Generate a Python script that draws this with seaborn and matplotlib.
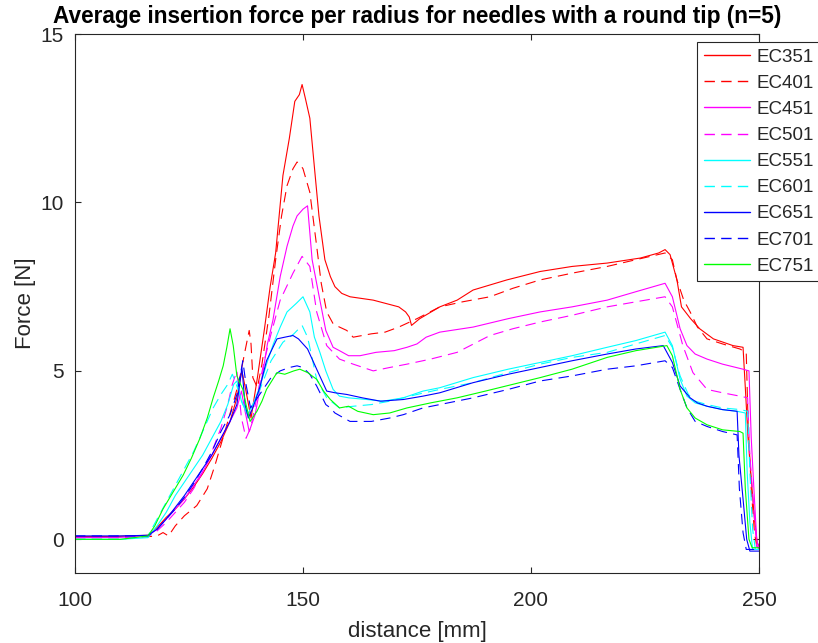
import matplotlib
matplotlib.use("Agg")
import matplotlib.pyplot as plt
import seaborn as sns
import pandas as pd

# ---------------- data ----------------
series_names = ["EC351", "EC401", "EC451", "EC501", "EC551", "EC601", "EC651", "EC701", "EC751"]
series_colors = ["#ff0000", "#ff0000", "#ff00ff", "#ff00ff", "#00ffff", "#00ffff", "#0000ff", "#0000ff", "#00ff00"]
series_dashed = [False, True, False, True, False, True, False, True, False]

x_ec351 = [100, 108, 116, 118, 120, 122, 124, 126, 128, 130, 132, 134, 135.5, 136.6, 137.5, 138.6, 140, 141.5,
           142.8, 144, 145.6, 147, 148.2, 149.2, 149.8, 150.5, 151.5, 152.6, 153.5, 154.8, 156, 157, 158.5, 160.3,
           165.4, 171, 172.5, 173.3, 173.8, 175.6, 180, 183.8, 187.3, 194.7, 202, 209, 216.7, 224, 228, 229.4,
           230.5, 232, 233, 235, 237, 240, 244.3, 246.5, 247, 247.6, 248.3, 249, 249.6, 250]
f_ec351 = [0.08, 0.08, 0.12, 0.35, 0.65, 0.9, 1.2, 1.55, 1.95, 2.4, 2.9, 3.5, 4.2, 5.0, 4.4, 3.6, 4.8, 6.2,
           7.5, 8.5, 10.8, 11.9, 13.0, 13.2, 13.5, 13.1, 12.5, 10.9, 9.6, 8.3, 7.8, 7.5, 7.3, 7.2,
           7.1, 6.9, 6.75, 6.6, 6.35, 6.55, 6.9, 7.1, 7.4, 7.7, 7.95, 8.1, 8.2, 8.35, 8.5, 8.6,
           8.45, 7.7, 6.9, 6.55, 6.25, 5.95, 5.75, 5.7, 4.5, 3.0, 1.8, 0.6, -0.1, -0.2]

x_ec401 = [100, 110, 116, 118, 119.3, 120.5, 122, 124, 126.7, 129, 130.7, 132, 133.3, 135, 136, 137.3, 138.2,
           138.6, 139, 140, 141, 142.5, 144, 145.3, 146.5, 147.8, 148.7, 149.5, 150, 151.5, 153, 154, 155.2,
           156.6, 158, 159.6, 161, 165, 168, 171, 175, 180, 185, 191, 196, 202, 209, 216.7, 223, 229.4, 231,
           232, 233.5, 234.9, 236.5, 238.6, 242, 245.8, 247.2, 247.6, 248.3, 249, 249.5, 250]
f_ec401 = [0.05, 0.05, 0.08, 0.1, 0.2, 0.1, 0.4, 0.7, 1.0, 1.5, 2.2, 2.8, 3.4, 4.2, 4.7, 5.6, 6.2,
           5.8, 4.8, 4.5, 5.2, 6.6, 8.3, 9.6, 10.5, 11.0, 11.2, 11.1, 11.0, 10.3, 8.7, 7.6, 6.75,
           6.4, 6.3, 6.2, 6.0, 6.1, 6.15, 6.3, 6.55, 6.9, 7.05, 7.2, 7.45, 7.7, 7.9, 8.1, 8.3, 8.5, 8.3,
           7.7, 7.1, 6.75, 6.3, 5.95, 5.8, 5.65, 5.55, 3.5, 1.5, 0.2, -0.2, -0.25]

x_ec451 = [100, 110, 116, 118, 120, 122, 124, 126, 128, 130, 132, 134, 135.5, 136.5, 137.3, 138.2, 139.5,
           141, 142.2, 143.4, 145, 146.5, 147.8, 148.7, 150, 151, 152, 153.7, 155, 156.6, 158, 160, 162.5,
           166, 170, 172.8, 175, 177, 180, 187.3, 195, 202, 209, 216.7, 223, 229.4, 231, 232.7, 234.2, 236,
           238.6, 242, 246.5, 247.8, 248.3, 249, 249.5, 250]
f_ec451 = [0.05, 0.06, 0.1, 0.3, 0.6, 0.9, 1.2, 1.6, 2.0, 2.5, 3.0, 3.5, 3.9, 4.4, 3.8, 3.2, 3.7,
           4.8, 5.8, 6.5, 7.8, 8.7, 9.3, 9.6, 9.8, 9.9, 8.3, 7.1, 6.2, 5.7, 5.6, 5.45, 5.45,
           5.55, 5.6, 5.7, 5.8, 6.0, 6.15, 6.3, 6.55, 6.75, 6.9, 7.1, 7.35, 7.6, 7.2, 6.25, 5.75, 5.5,
           5.35, 5.2, 5.05, 5.0, 3.0, 1.2, 0.0, -0.3]

x_ec501 = [100, 110, 116, 118, 120, 122, 124, 126, 128, 130, 132, 133.5, 134.5, 135.5, 136.5, 137.5, 138.5,
           140, 141.5, 143, 145, 147.8, 149.8, 151.5, 153, 155.2, 158, 161, 165.4, 169, 172.8, 178, 183.8,
           191, 196, 202, 209, 216.7, 223, 229.4, 231, 233.3, 235.5, 238.6, 242, 245.8, 247.5, 248, 248.8,
           249.5, 250]
f_ec501 = [0.05, 0.05, 0.08, 0.25, 0.5, 0.8, 1.1, 1.5, 2.0, 2.6, 3.3, 4.0, 4.6, 5.0, 3.6, 3.0, 3.3,
           4.3, 5.3, 6.1, 7.1, 7.9, 8.4, 8.1, 6.75, 5.75, 5.35, 5.2, 5.0, 5.1, 5.2, 5.35, 5.55,
           6.05, 6.25, 6.45, 6.65, 6.9, 7.05, 7.2, 6.9, 5.75, 4.95, 4.45, 4.35, 4.25, 4.2, 2.5, 1.0,
           -0.2, -0.3]

x_ec551 = [100, 110, 116, 118, 120, 122, 124, 126, 128, 130, 132, 133.5, 134.8, 135.5, 136.5, 137.8, 139,
           140.5, 142, 143.5, 145, 146.5, 148.5, 150, 151.5, 152.5, 153.7, 155, 156.6, 158, 160, 164, 167.5,
           172, 176.3, 180, 187.3, 195, 202, 209, 216.7, 223, 229.4, 231, 232.7, 234.2, 236, 238.6, 242,
           245.2, 247, 247.4, 248, 248.6, 250]
f_ec551 = [0.0, 0.0, 0.05, 0.4, 0.8, 1.3, 1.7, 2.1, 2.5, 3.0, 3.5, 4.0, 4.6, 4.7, 4.1, 3.7, 4.0,
           4.5, 5.2, 5.8, 6.3, 6.75, 7.0, 7.2, 6.75, 6.0, 5.55, 5.0, 4.45, 4.25, 4.2, 4.15, 4.1,
           4.2, 4.4, 4.5, 4.8, 5.05, 5.25, 5.45, 5.7, 5.9, 6.15, 5.75, 4.75, 4.25, 4.05, 3.95, 3.85,
           3.8, 3.75, 2.0, 0.5, -0.3, -0.3]

x_ec601 = [100, 110, 116, 118, 120, 122, 124, 126, 128, 130.3, 132, 133.5, 134.5, 135.5, 136.8, 138.2,
           139.5, 141, 143, 145.6, 148, 149.8, 151, 153, 155.2, 158, 161, 165, 169, 175, 180, 187.3, 195,
           202, 209, 216.7, 223, 229.4, 231, 232.7, 234.5, 236, 238.6, 242, 246, 247.5, 248, 248.6, 249.2,
           250]
f_ec601 = [0.0, 0.0, 0.1, 0.6, 1.1, 1.6, 2.1, 2.6, 3.2, 3.9, 4.3, 4.6, 4.9, 4.55, 4.0, 3.8,
           4.1, 4.6, 5.3, 5.85, 6.1, 6.35, 6.0, 4.75, 4.2, 3.9, 3.95, 4.0, 4.1, 4.3, 4.45, 4.65, 4.95,
           5.2, 5.4, 5.55, 5.8, 6.05, 5.7, 4.85, 4.3, 4.1, 4.0, 3.9, 3.85, 3.8, 2.0, 0.3, -0.3,
           -0.3]

x_ec651 = [100, 110, 116, 118, 120, 122, 124, 126, 128, 130, 132, 134, 135.5, 136.6, 137.3, 138, 139,
           140.5, 142, 144.3, 146, 147.8, 149, 151, 153, 155.2, 157, 159.6, 163, 167, 172, 176.3, 180,
           187.3, 195, 202, 209, 216.7, 223, 229, 231, 232.7, 234.9, 236.5, 238.6, 242, 245.2, 245.6,
           246.5, 247.3, 248, 250]
f_ec651 = [0.1, 0.1, 0.12, 0.3, 0.6, 0.95, 1.3, 1.7, 2.1, 2.5, 3.0, 3.5, 4.0, 5.1, 4.0, 3.6, 3.9,
           4.5, 5.3, 5.95, 6.0, 6.05, 5.95, 5.65, 5.05, 4.4, 4.35, 4.3, 4.2, 4.1, 4.15, 4.25, 4.35,
           4.65, 4.9, 5.1, 5.3, 5.5, 5.65, 5.75, 5.25, 4.55, 4.2, 4.05, 3.95, 3.85, 3.8, 2.5,
           1.2, 0.0, -0.35, -0.35]

x_ec701 = [100, 110, 116, 118, 120, 122, 124, 126, 128, 130, 132, 134, 135.5, 136.8, 137.5, 138.5, 140,
           141.5, 143, 145, 147, 148.7, 150, 151.5, 153, 155, 156, 157, 160.3, 165, 169, 172, 176.3, 180,
           187.3, 195, 202, 209, 216.7, 223, 229.4, 231, 232.7, 234.2, 236, 238.6, 242, 245.2, 245.7,
           246.5, 247.2, 250]
f_ec701 = [0.1, 0.1, 0.1, 0.3, 0.6, 0.9, 1.25, 1.65, 2.1, 2.6, 3.2, 3.7, 4.3, 5.3, 4.6, 3.9, 4.2,
           4.5, 4.8, 5.0, 5.1, 5.15, 5.1, 4.9, 4.55, 4.0, 3.9, 3.75, 3.5, 3.5, 3.6, 3.7, 3.9, 4.0,
           4.2, 4.45, 4.7, 4.85, 5.05, 5.15, 5.3, 5.1, 4.45, 3.9, 3.5, 3.35, 3.2, 3.1, 1.5,
           0.2, -0.3, -0.3]

x_ec751 = [100, 110, 116, 117.5, 119.3, 121.5, 123.7, 125.5, 127.4, 129, 130.3, 131.5, 132.5, 133.3, 134,
           134.7, 135.5, 136.8, 137.5, 138.4, 139.9, 141, 142, 144.3, 146, 148, 149.3, 151, 153, 154.5,
           156, 158, 160, 162, 165.4, 169, 172.8, 178, 183.8, 190, 196, 202, 209, 216.7, 223, 229.8, 231,
           232.7, 234.2, 236, 238.6, 242, 245.8, 246.5, 247, 247.8, 248.5, 250]
f_ec751 = [0.0, 0.0, 0.1, 0.4, 0.9, 1.4, 1.9, 2.4, 3.0, 3.6, 4.2, 4.7, 5.15, 5.7, 6.25,
           5.75, 4.85, 4.45, 4.0, 3.5, 3.8, 4.1, 4.45, 4.95, 4.9, 5.0, 5.05, 4.95, 4.75, 4.4,
           4.15, 3.9, 3.95, 3.8, 3.7, 3.75, 3.9, 4.05, 4.2, 4.4, 4.6, 4.8, 5.05, 5.4, 5.6, 5.75, 5.45,
           4.45, 3.9, 3.6, 3.4, 3.25, 3.2, 3.15, 1.5, 0.0, -0.25, -0.25]

x_ticks = [100, 150, 200, 250]
y_ticks = [0, 5, 10, 15]
title_text = "Average insertion force per radius for needles with a round tip (n=5)"
x_label = "distance [mm]"
y_label = "Force [N]"

all_x = [x_ec351, x_ec401, x_ec451, x_ec501, x_ec551, x_ec601, x_ec651, x_ec701, x_ec751]
all_f = [f_ec351, f_ec401, f_ec451, f_ec501, f_ec551, f_ec601, f_ec651, f_ec701, f_ec751]

# ---------------- styling ----------------
sns.set_theme(style="white")
plt.rcParams["font.family"] = ["Liberation Sans", "DejaVu Sans"]
plt.rcParams["lines.scale_dashes"] = False
ink = "#262626"

fig = plt.figure(figsize=(8.18, 6.43), dpi=100)
ax = fig.add_axes([75 / 818, 1 - 573 / 643, (759 - 75) / 818, (573 - 34) / 643])

for name, col, dashed, xs, fs in zip(series_names, series_colors, series_dashed, all_x, all_f):
    df = pd.DataFrame({"x": xs, "f": fs})
    sns.lineplot(data=df, x="x", y="f", ax=ax, color=col, linewidth=0.8,
                 linestyle=(0, (7.5, 4.5)) if dashed else "-",
                 estimator=None, sort=False, label=name)

ax.set_xlim(100, 250)
ax.set_ylim(-1, 15)
ax.set_xticks(x_ticks)
ax.set_yticks(y_ticks)
ax.set_xlabel(x_label, fontsize=16, color=ink, labelpad=8)
ax.set_ylabel(y_label, fontsize=16, color=ink, labelpad=3)
ax.set_title(title_text, fontsize=16.3, fontweight="bold", color="black", pad=8)

for sp in ax.spines.values():
    sp.set_color(ink)
    sp.set_linewidth(0.8)
    sp.set_visible(True)
ax.tick_params(axis="both", which="both", direction="in", length=4, width=0.8,
               colors=ink, labelsize=15, top=True, right=True, bottom=True, left=True)
ax.tick_params(axis="x", pad=13)
ax.tick_params(axis="y", pad=8)
ax.grid(False)

leg = ax.legend(loc="upper left", bbox_to_anchor=(697 / 818, 1 - 42 / 643),
                bbox_transform=fig.transFigure, fontsize=13.5, frameon=True, fancybox=False,
                framealpha=1, edgecolor=ink, borderaxespad=0, borderpad=0.35,
                handlelength=2.5, handletextpad=0.35, labelspacing=0.48)
leg.get_frame().set_linewidth(0.8)
for h, col in zip(leg.get_lines(), series_colors):
    h.set_color(col)
    h.set_linewidth(1.0)
for t in leg.get_texts():
    t.set_color(ink)

fig.savefig("out.png", dpi=100, facecolor="white")
